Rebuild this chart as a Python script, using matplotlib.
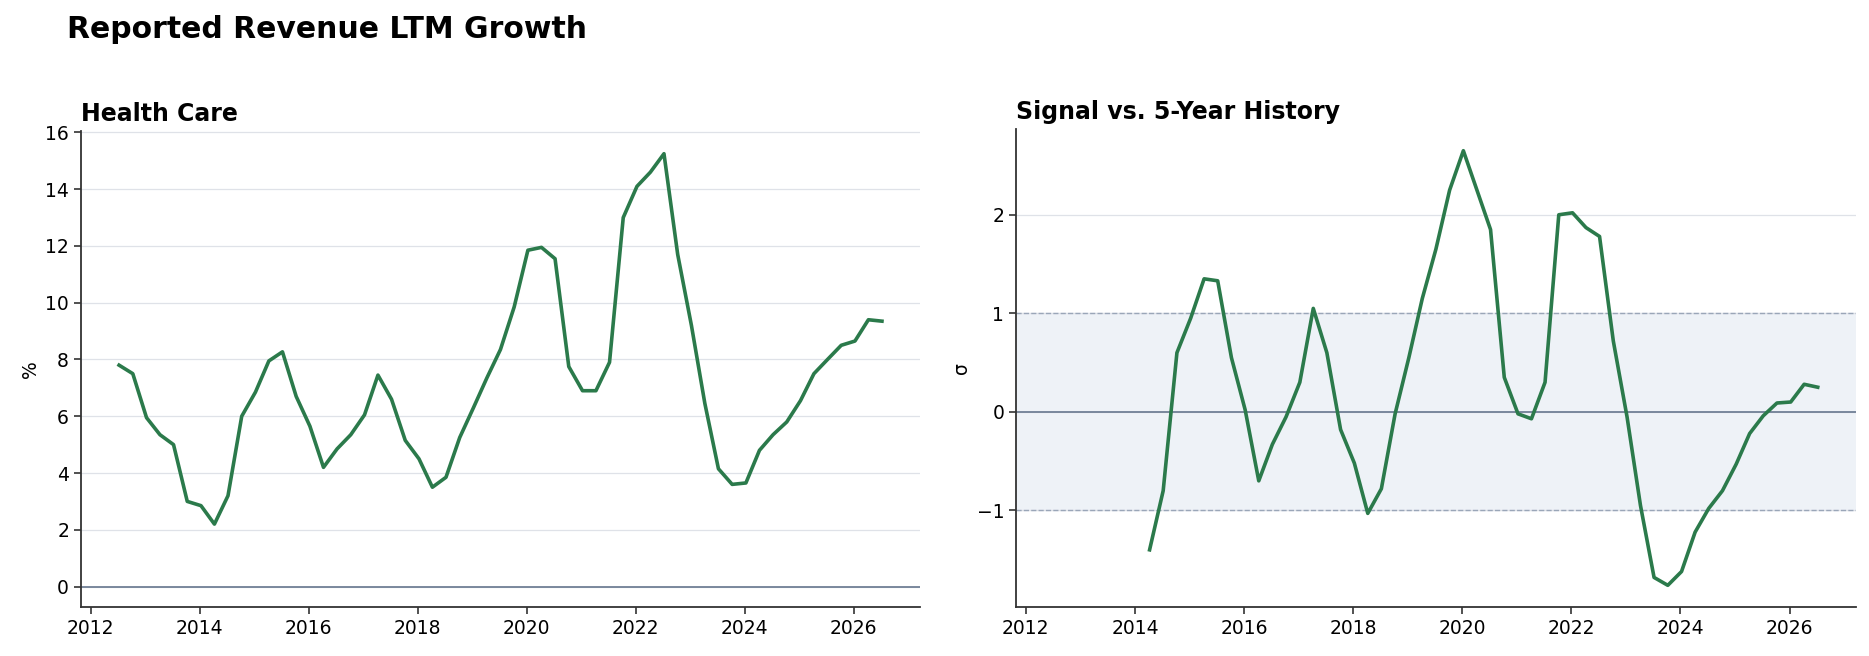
import pandas as pd
import matplotlib
matplotlib.use("Agg")
import matplotlib.pyplot as plt

# quarterly dates, LTM revenue growth (%) for Health Care
dates = pd.date_range("2012-07-01", periods=57, freq="QS") + pd.Timedelta(days=8)

growth = [7.8, 7.5, 5.95, 5.35, 5.0, 3.0, 2.85, 2.2, 3.2, 6.0,
          6.85, 7.95, 8.27, 6.7, 5.65, 4.2, 4.85, 5.35, 6.05, 7.45,
          6.6, 5.15, 4.5, 3.5, 3.85, 5.25, 6.3, 7.35, 8.35, 9.85,
          11.85, 11.95, 11.55, 7.75, 6.9, 6.9, 7.9, 13.0, 14.1, 14.6,
          15.25, 11.7, 9.2, 6.45, 4.15, 3.6, 3.65, 4.8, 5.35, 5.8,
          6.55, 7.5, 8.0, 8.5, 8.65, 9.4, 9.35]

# z-score vs trailing 5y history, starts 7 quarters later
zscore = [-1.4, -0.8, 0.6, 0.95, 1.35, 1.33, 0.55, 0.02, -0.7, -0.33,
          -0.05, 0.3, 1.05, 0.6, -0.18, -0.52, -1.03, -0.78, -0.02, 0.55,
          1.15, 1.65, 2.25, 2.65, 2.25, 1.85, 0.35, -0.02, -0.07, 0.3,
          2.0, 2.02, 1.87, 1.78, 0.72, -0.05, -0.95, -1.68, -1.76, -1.62,
          -1.22, -0.98, -0.8, -0.53, -0.22, -0.04, 0.09, 0.1, 0.28, 0.25]
zdates = dates[7:]

GREEN = "#2b7a4b"
ZERO = "#718096"
GRID = "#dfe2e8"

fig = plt.figure(figsize=(18.69, 6.56), dpi=100)
ax1 = fig.add_axes([0.0433, 0.0747, 0.449, 0.7256])
ax2 = fig.add_axes([0.5436, 0.0747, 0.4494, 0.7286])

fig.text(0.036, 0.977, "Reported Revenue LTM Growth", fontsize=21.5,
         fontweight="bold", va="top", ha="left")

# left panel
ax1.plot(dates, growth, color=GREEN, lw=2.6, zorder=3)
ax1.axhline(0, color=ZERO, lw=1.3, zorder=2)
ax1.set_ylim(-0.72, 16.05)
ax1.set_yticks(range(0, 17, 2))
ax1.set_ylabel("%", fontsize=13.5)
ax1.set_title("Health Care", loc="left", fontsize=17, fontweight="bold", pad=7)

# right panel
ax2.axhspan(-1, 1, color="#eef2f7", zorder=0)
ax2.axhline(1, color="#9aa6b8", lw=1, ls="--", zorder=1)
ax2.axhline(-1, color="#9aa6b8", lw=1, ls="--", zorder=1)
ax2.axhline(0, color=ZERO, lw=1.3, zorder=2)
ax2.plot(zdates, zscore, color=GREEN, lw=2.6, zorder=3)
ax2.set_yticks([-1, 0, 1, 2])
ax2.set_yticklabels(["\u22121", "0", "1", "2"])
ax2.set_ylim(-1.98, 2.87)
ax2.set_xlim(ax1.get_xlim())
ax2.set_ylabel("σ", fontsize=13.5)
ax2.set_title("Signal vs. 5-Year History", loc="left", fontsize=17,
              fontweight="bold", pad=7)

for ax in (ax1, ax2):
    ax.grid(axis="y", color=GRID, lw=0.9, zorder=0)
    ax.set_axisbelow(True)
    ax.spines["top"].set_visible(False)
    ax.spines["right"].set_visible(False)
    ax.spines["left"].set_color("#333333")
    ax.spines["bottom"].set_color("#333333")
    ax.spines["left"].set_linewidth(1.3)
    ax.spines["bottom"].set_linewidth(1.3)
    ax.tick_params(labelsize=13.5, color="#333333", width=1.2, length=5)

fig.savefig("out.png", dpi=100)
